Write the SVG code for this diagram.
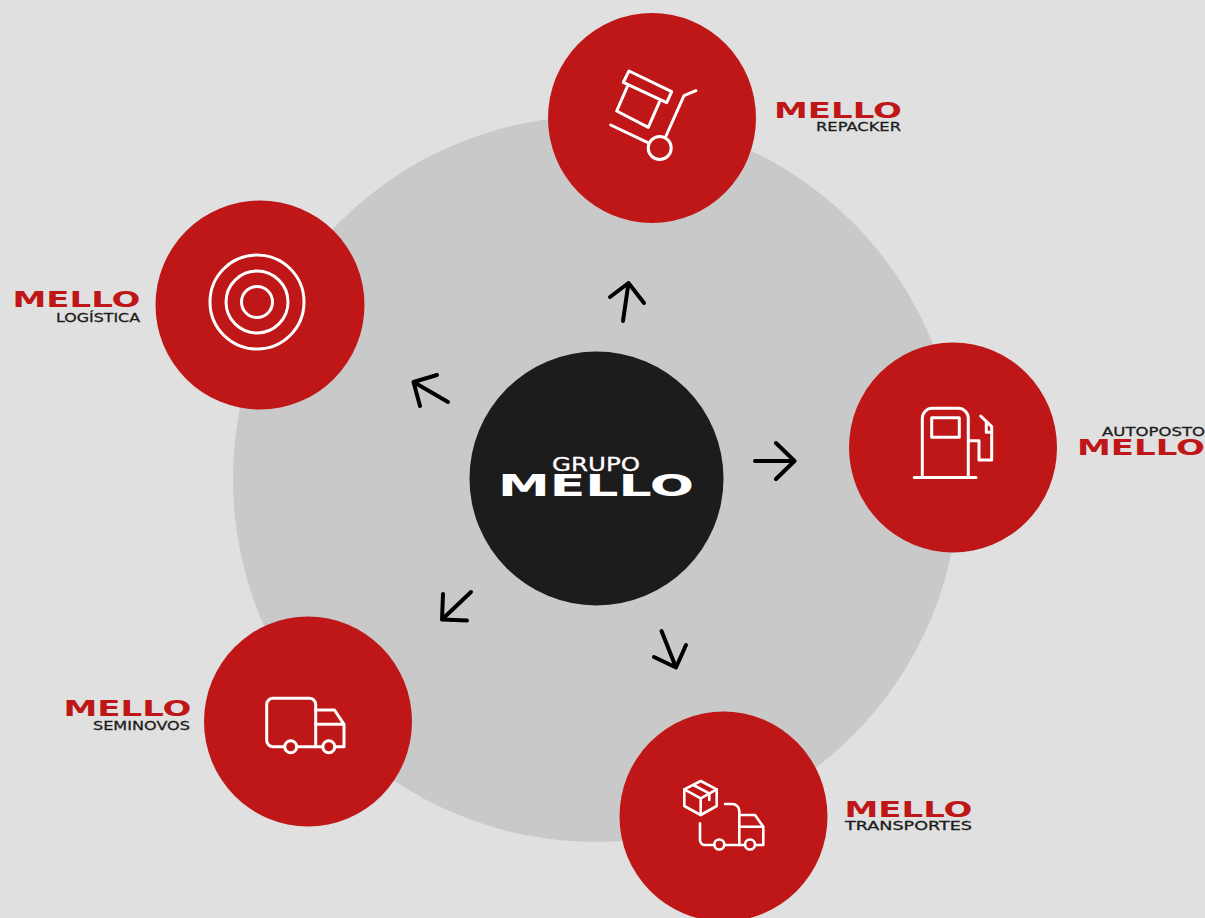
<svg xmlns="http://www.w3.org/2000/svg" width="1205" height="918" viewBox="0 0 1205 918">
<style>
.red{fill:#bf1717}
.ic{fill:none;stroke:#fff;stroke-width:3;stroke-linecap:round;stroke-linejoin:round}
.ic2{fill:none;stroke:#fff;stroke-width:2.600;stroke-linecap:round;stroke-linejoin:round}
.ar{fill:none;stroke:#000;stroke-width:4;stroke-linecap:round;stroke-linejoin:round}
.brand{font-family:"DejaVu Sans",sans-serif;font-weight:700;font-size:22px;fill:#bf1717}
.sub{font-family:"DejaVu Sans",sans-serif;font-size:13px;fill:#1c1c1c;stroke:#1c1c1c;stroke-width:.3px}
</style>
<rect width="1205" height="918" fill="#e0e0e0"/>
<circle id="backdrop" cx="596" cy="479" r="363" fill="#c9c9c9"/>
<g id="connectors" class="ar">
<path d="M623,321L628.500,283M610,297L628.500,283L644,303"/>
<path d="M448,402L413.500,382M437,375L413.500,382L420,406"/>
<path d="M755,461H794.500M776,443L794.500,461L776,479"/>
<path d="M471,592L442,619.500M443,594L442,619.500L467,620.500"/>
<path d="M661.500,631L676,667.500M654,657L676,667.500L686,645"/>
</g>
<g id="center">
<circle cx="596.500" cy="478.500" r="127" fill="#1c1c1c"/>
<text x="552" y="470.500" textLength="88" lengthAdjust="spacingAndGlyphs" font-family="'DejaVu Sans',sans-serif" font-size="19" fill="#fff" stroke="#fff" stroke-width=".3">GRUPO</text>
<text x="498" y="495.500" textLength="196" lengthAdjust="spacingAndGlyphs" font-family="'DejaVu Sans',sans-serif" font-weight="700" font-size="30" fill="#fff">MELLO</text>
</g>
<g id="repacker">
<ellipse class="red" cx="652" cy="118" rx="104" ry="105"/>
<g class="ic">
<path d="M629,71L671.700,91.700L666.700,102.700L623.300,82.300Z"/>
<path d="M627.300,86.700L616.700,111L648.300,127.300L660,100.700"/>
<path d="M610.700,125L647.300,142.300"/>
<circle cx="659.700" cy="148" r="11.500"/>
<path d="M666,136L684,95.700L696,90.700"/>
</g>
<text class="brand" x="774" y="117.500" textLength="128" lengthAdjust="spacingAndGlyphs">MELLO</text>
<text class="sub" x="816" y="131" textLength="85" lengthAdjust="spacingAndGlyphs">REPACKER</text>
</g>
<g id="logistica">
<circle class="red" cx="260" cy="305" r="104.500"/>
<g class="ic">
<circle cx="257" cy="302" r="47"/>
<circle cx="257" cy="302" r="31"/>
<circle cx="257" cy="302" r="15.500"/>
</g>
<text class="brand" x="12.500" y="306.500" textLength="128" lengthAdjust="spacingAndGlyphs">MELLO</text>
<text class="sub" x="56" y="322" textLength="84" lengthAdjust="spacingAndGlyphs">LOGÍSTICA</text>
</g>
<g id="autoposto">
<ellipse class="red" cx="953" cy="447.500" rx="104" ry="105"/>
<g class="ic">
<path d="M922.300,477V418.300a10,10 0 0 1 10,-10H958.300a10,10 0 0 1 10,10V477"/>
<path d="M914.300,477.500H976"/>
<rect x="931.700" y="417.700" width="27.600" height="19.600"/>
<path d="M968.300,440.700H979V460H991.700V426.700L980.700,416"/>
<path d="M986.300,422V432.300H991.700"/>
</g>
<text class="sub" x="1102" y="436" textLength="103" lengthAdjust="spacingAndGlyphs">AUTOPOSTO</text>
<text class="brand" x="1077" y="454.500" textLength="128" lengthAdjust="spacingAndGlyphs">MELLO</text>
</g>
<g id="seminovos">
<ellipse class="red" cx="308" cy="721.500" rx="104" ry="105"/>
<g class="ic">
<path d="M284.400,746.700H273a6.300,6.300 0 0 1 -6.300,-6.300V704.600a6.300,6.300 0 0 1 6.300,-6.300H309.400a6.300,6.300 0 0 1 6.300,6.300V746.700H297"/>
<circle cx="290.700" cy="746.700" r="6"/>
<circle cx="328.800" cy="746.700" r="6"/>
<path d="M315.700,746.700H322.500M335,746.700H344V724.300L334.500,710H315.700M315.700,724.300H344"/>
</g>
<text class="brand" x="63.500" y="715.500" textLength="128" lengthAdjust="spacingAndGlyphs">MELLO</text>
<text class="sub" x="93" y="730" textLength="97" lengthAdjust="spacingAndGlyphs">SEMINOVOS</text>
</g>
<g id="transportes">
<ellipse class="red" cx="723.500" cy="816.500" rx="104" ry="105"/>
<g class="ic2">
<path d="M700.700,781L716.700,789.300V806L700.700,815L684.300,806V789.300Z"/>
<path d="M684.300,789.300L700.700,798.300L716.700,789.300M700.700,798.300V815"/>
<path d="M693.300,785L709.300,793.300V800"/>
<path d="M700,823.300V840a5,5 0 0 0 5,5H714.300"/>
<circle cx="719.300" cy="844.500" r="5"/>
<path d="M724.300,845H745"/>
<circle cx="750" cy="844.500" r="5"/>
<path d="M755,845H763.300V826.700L755,815H740M739.300,845V811a7,7 0 0 0 -7,-7H725M740,826.700H763.300"/>
</g>
<text class="brand" x="844.500" y="816.500" textLength="128" lengthAdjust="spacingAndGlyphs">MELLO</text>
<text class="sub" x="845" y="830" textLength="127" lengthAdjust="spacingAndGlyphs">TRANSPORTES</text>
</g>
</svg>
